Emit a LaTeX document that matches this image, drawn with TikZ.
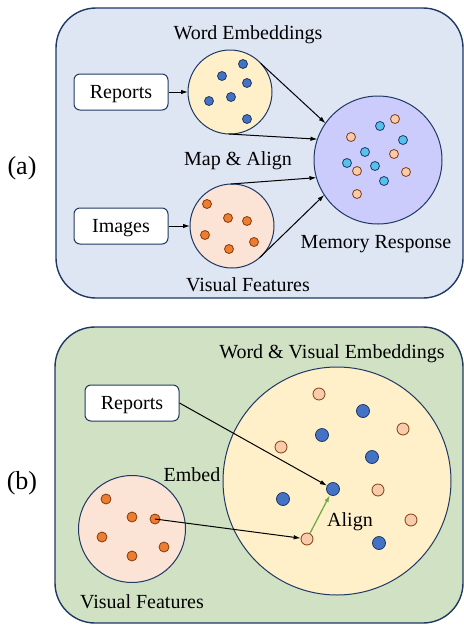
\documentclass[tikz,border=0pt]{standalone}
\usepackage{fontspec}
\setmainfont{Liberation Serif}
\usetikzlibrary{arrows.meta}
\definecolor{navy}{HTML}{1F3864}
\definecolor{panelA}{HTML}{DEE6F3}
\definecolor{panelB}{HTML}{D0E2C3}
\definecolor{wordY}{HTML}{FFF0C9}
\definecolor{visP}{HTML}{FBE3D6}
\definecolor{memL}{HTML}{CBCBFC}
\definecolor{dotBlue}{HTML}{4472C4}
\definecolor{dotOrange}{HTML}{ED7D31}
\definecolor{dotCyan}{HTML}{55C2EE}
\definecolor{dotPeach}{HTML}{F8CBAD}
\definecolor{dotBrown}{HTML}{843C0C}
\definecolor{alignG}{HTML}{70AD47}
\begin{document}
\begin{tikzpicture}[x=1pt,y=-1pt,
  lbl/.style={font=\fontsize{20}{24}\selectfont, inner sep=0pt, yshift=-2pt},
  panellbl/.style={font=\fontsize{26}{30}\selectfont, inner sep=0pt},
  panel/.style={draw=navy, line width=1.4pt, rounded corners=40pt},
  inbox/.style={draw=navy, line width=1pt, fill=white, rounded corners=6pt, minimum width=94pt, minimum height=36pt, font=\fontsize{20}{24}\selectfont, inner sep=0pt, text depth=1pt},
  cloud/.style={circle, draw=navy, line width=1pt, inner sep=0pt, outer sep=0pt},
  bdot/.style={circle, draw=navy, fill=dotBlue, line width=0.8pt, inner sep=0pt, minimum size=#1},
  odot/.style={circle, draw=dotBrown, fill=dotOrange, line width=0.8pt, inner sep=0pt, minimum size=#1},
  cdot/.style={circle, draw=navy, fill=dotCyan, line width=0.8pt, inner sep=0pt, minimum size=#1},
  pdot/.style={circle, draw=dotBrown, fill=dotPeach, line width=0.8pt, inner sep=0pt, minimum size=#1},
  bdot/.default=9pt, odot/.default=9pt, cdot/.default=9pt, pdot/.default=9pt,
  arr/.style={-{Latex[length=7pt,width=4.5pt]}, line width=1pt, black},
]
\useasboundingbox (0,0) rectangle (464,625);

% ---------- panel (a) ----------
\draw[panel, fill=panelA] (56,8) rectangle (463,298);
\node[panellbl] (la) at (22,168) {(a)};

\node[lbl] (twe) at (248,33) {Word Embeddings};
\node[inbox] (repA) at (121,92) {Reports};
\node[inbox] (imgA) at (121,226) {Images};
\node[cloud, fill=wordY, minimum size=84pt] (wc) at (230,92) {};
\node[cloud, fill=visP, minimum size=84pt] (vc) at (232,226) {};
\node[cloud, fill=memL, minimum size=128pt] (mc) at (378,160) {};
\node[lbl] (tma) at (238,159) {Map \& Align};
\node[lbl] (tvf) at (248,283) {Visual Features};
\node[lbl] (tmr) at (376,242) {Memory Response};

% word dots
\node[bdot] (w1) at (243,64) {};
\node[bdot] (w2) at (222,76) {};
\node[bdot] (w3) at (247,83) {};
\node[bdot] (w4) at (209,101) {};
\node[bdot] (w5) at (231,97) {};
\node[bdot] (w6) at (247,119) {};
% visual dots
\node[odot] (v1) at (207,204) {};
\node[odot] (v2) at (228,218) {};
\node[odot] (v3) at (247,221) {};
\node[odot] (v4) at (205,235) {};
\node[odot] (v5) at (254,242) {};
\node[odot] (v6) at (229,249) {};
% memory dots
\node[cdot] (m1) at (380,126) {};
\node[cdot] (m2) at (403,140) {};
\node[cdot] (m3) at (365,152) {};
\node[cdot] (m4) at (347,163) {};
\node[cdot] (m5) at (375,166) {};
\node[cdot] (m6) at (384,181) {};
\node[pdot] (n1) at (395,119) {};
\node[pdot] (n2) at (351,137) {};
\node[pdot] (n3) at (394,154) {};
\node[pdot] (n4) at (357,171) {};
\node[pdot] (n5) at (406,172) {};
\node[pdot] (n6) at (357,194) {};

\draw[arr] (repA.east) -- (wc.west);
\draw[arr] (imgA.east) -- (vc.west);
\draw[arr] (wc.43) -- (mc.145);
\draw[arr] (wc.-92) -- (mc.161);
\draw[arr] (vc.92) -- (mc.196);
\draw[arr] (vc.-49) -- (mc.213);

% ---------- panel (b) ----------
\draw[panel, fill=panelB] (55,327) rectangle (463,623);
\node[panellbl] (lb) at (22,483) {(b)};

\node[lbl] (twve) at (332,352) {Word \& Visual Embeddings};
\node[cloud, fill=wordY, minimum size=228pt] (bc) at (337,481) {};
\node[cloud, fill=visP, minimum size=107pt] (vb) at (132,529) {};
\node[inbox] (repB) at (132,403) {Reports};
\node[lbl] (temb) at (192,473) {Embed};
\node[lbl] (tvf2) at (142,600) {Visual Features};

% visual dots (b)
\node[odot=10pt] (o1) at (106,499) {};
\node[odot=10pt] (o2) at (132,517) {};
\node[odot=10pt] (o3) at (155,519) {};
\node[odot=10pt] (o4) at (102,537) {};
\node[odot=10pt] (o5) at (164,547) {};
\node[odot=10pt] (o6) at (132,556) {};
% big circle dots
\node[pdot=12pt] (p1) at (319,394) {};
\node[pdot=12pt] (p2) at (403,429) {};
\node[pdot=12pt] (p3) at (281,447) {};
\node[pdot=12pt] (p4) at (378,490) {};
\node[pdot=12pt] (p5) at (411,520) {};
\node[pdot=12pt] (p6) at (307,539) {};
\node[bdot=13pt] (q1) at (363,411) {};
\node[bdot=13pt] (q2) at (322,435) {};
\node[bdot=13pt] (q3) at (372,457) {};
\node[bdot=13pt] (q4) at (283,499) {};
\node[bdot=13pt] (q5) at (333,489) {};
\node[bdot=13pt] (q6) at (379,543) {};

\node[lbl] (talign) at (350,520) {Align};

\draw[arr] (repB.east) -- (q5);
\draw[arr] (o3.center) -- (p6);
\draw[-{Latex[length=7pt,width=4.5pt]}, line width=1.3pt, alignG] (p6) -- (q5);
\end{tikzpicture}
\end{document}
